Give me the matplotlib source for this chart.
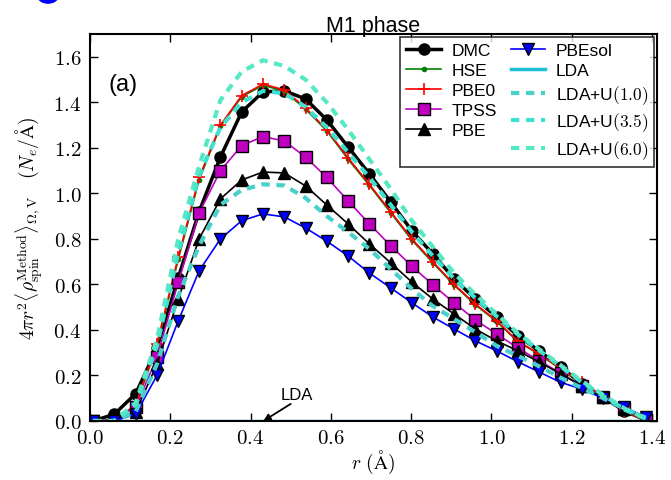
import numpy as np
import matplotlib.pyplot as plt
from matplotlib.patches import Ellipse
from matplotlib.ticker import FuncFormatter, MultipleLocator

plt.rcParams['mathtext.fontset'] = 'cm'
plt.rcParams['font.family'] = ['Liberation Sans', 'DejaVu Sans']

# radial grid (Angstrom)
r = [0.008, 0.061, 0.114, 0.167, 0.220, 0.272, 0.325, 0.378, 0.431, 0.484,
     0.537, 0.590, 0.643, 0.696, 0.749, 0.802, 0.854, 0.907, 0.960, 1.013,
     1.066, 1.119, 1.172, 1.225, 1.278, 1.331, 1.384]

dmc = [0.0, 0.03, 0.12, 0.32, 0.63, 0.92, 1.16, 1.358, 1.446, 1.451,
       1.415, 1.323, 1.204, 1.086, 0.963, 0.835, 0.734, 0.624, 0.536, 0.457,
       0.374, 0.308, 0.237, 0.163, 0.105, 0.044, 0.005]
hse = [0.0, 0.005, 0.065, 0.33, 0.71, 1.06, 1.295, 1.425, 1.475, 1.45,
       1.37, 1.275, 1.15, 1.035, 0.915, 0.795, 0.695, 0.597, 0.51, 0.437,
       0.348, 0.293, 0.228, 0.168, 0.104, 0.043, 0.0]
pbe0 = [0.0, 0.005, 0.07, 0.34, 0.72, 1.07, 1.30, 1.43, 1.48, 1.455,
        1.376, 1.279, 1.156, 1.04, 0.92, 0.80, 0.70, 0.60, 0.514, 0.44,
        0.35, 0.295, 0.23, 0.17, 0.105, 0.044, 0.0]
tpss = [0.0, 0.005, 0.06, 0.28, 0.61, 0.914, 1.10, 1.21, 1.25, 1.23,
        1.16, 1.07, 0.967, 0.866, 0.77, 0.68, 0.598, 0.519, 0.444, 0.382,
        0.321, 0.264, 0.211, 0.154, 0.105, 0.057, 0.005]
pbe = [0.0, 0.0, 0.04, 0.25, 0.536, 0.80, 0.976, 1.059, 1.094, 1.090,
       1.033, 0.949, 0.866, 0.778, 0.695, 0.61, 0.536, 0.47, 0.404, 0.352,
       0.308, 0.259, 0.207, 0.154, 0.105, 0.053, 0.0]
pbesol = [0.0, 0.0, 0.03, 0.20, 0.44, 0.66, 0.80, 0.88, 0.91, 0.897,
          0.848, 0.79, 0.725, 0.65, 0.585, 0.519, 0.457, 0.404, 0.352, 0.308,
          0.26, 0.215, 0.17, 0.14, 0.10, 0.06, 0.018]
lda = [0.0] * len(r)
ldau1 = [0.0, 0.0, 0.04, 0.25, 0.55, 0.77, 0.95, 1.015, 1.04, 1.035,
         0.98, 0.90, 0.83, 0.756, 0.668, 0.58, 0.505, 0.448, 0.39, 0.33,
         0.286, 0.24, 0.19, 0.145, 0.10, 0.055, 0.015]
ldau35 = [0.0, 0.0, 0.07, 0.33, 0.74, 1.08, 1.29, 1.40, 1.45, 1.44,
          1.38, 1.29, 1.18, 1.07, 0.95, 0.83, 0.725, 0.625, 0.54, 0.46,
          0.38, 0.31, 0.24, 0.17, 0.11, 0.05, 0.01]
ldau6 = [0.0, 0.0, 0.08, 0.36, 0.80, 1.12, 1.41, 1.535, 1.585, 1.56,
         1.50, 1.40, 1.28, 1.15, 1.02, 0.88, 0.765, 0.65, 0.555, 0.47,
         0.385, 0.315, 0.245, 0.175, 0.115, 0.055, 0.01]

fig = plt.figure(figsize=(6.71, 4.81), dpi=100)
ax = fig.add_axes([0.134, 0.1227, 0.845, 0.8043])

ax.plot(r, dmc, 'k-', marker='o', ms=8, lw=2.5, label='DMC')
ax.plot(r, hse, color='green', marker='.', ms=6, lw=1.2, label='HSE')
ax.plot(r, pbe0, color='red', marker='+', ms=9, mew=1.2, lw=1.2, label='PBE0')
ax.plot(r, tpss, color='m', marker='s', ms=8, mec='k', lw=1.2, label='TPSS')
ax.plot(r, pbe, 'k-', marker='^', ms=8, lw=1.2, label='PBE')
ax.plot(r, pbesol, color='blue', marker='v', ms=8, mec='k', lw=1.2, label='PBEsol')
ax.plot(r, lda, color='#1fbcd6', lw=2.5, label='LDA')
ax.plot(r, ldau1, color='#48d1cc', lw=3, ls=(0, (2, 1.6)), label=r'LDA+U$(1.0)$')
ax.plot(r, ldau35, color='#40e0d0', lw=3, ls=(0, (2, 1.6)), label=r'LDA+U$(3.5)$')
ax.plot(r, ldau6, color='#55e8c4', lw=3, ls=(0, (2, 1.6)), label=r'LDA+U$(6.0)$')

# LDA pointer
ax.annotate('', xy=(0.432, 0.0), xytext=(0.50, 0.075),
            arrowprops=dict(arrowstyle='-|>', color='k', lw=1.3, shrinkA=0, shrinkB=0))
ax.text(0.515, 0.085, 'LDA', fontsize=12, ha='center', va='bottom')

ax.text(0.033, 0.87, '(a)', transform=ax.transAxes, fontsize=17, va='center')
ax.set_title('M1 phase', fontsize=15.5, pad=2)

ax.set_xlim(0, 1.412)
ax.set_ylim(0, 1.7)
ax.xaxis.set_major_locator(MultipleLocator(0.2))
ax.yaxis.set_major_locator(MultipleLocator(0.2))
fmt = FuncFormatter(lambda v, p: '$%.1f$' % v)
ax.xaxis.set_major_formatter(fmt)
ax.yaxis.set_major_formatter(fmt)
ax.tick_params(direction='in', length=6, width=1, top=True, right=True, labelsize=15)
ax.tick_params(axis='x', pad=5)
ax.tick_params(axis='y', pad=6)
for s in ax.spines.values():
    s.set_linewidth(1.5)

ax.set_xlabel(r'$r\ ({\rm \AA})$', fontsize=14, labelpad=1)
ax.set_ylabel(r'$4\pi r^2\langle\rho^{\rm Method}_{\rm spin}\rangle_{\Omega,{\rm V}}\quad(N_e/{\rm \AA})$',
              fontsize=14, labelpad=6)

leg = ax.legend(loc='upper right', ncol=2, fontsize=12.5, frameon=True, fancybox=False,
                borderaxespad=0.15, handlelength=2.0, handletextpad=0.6, columnspacing=0.8,
                labelspacing=0.28, borderpad=0.35)
leg.get_frame().set_edgecolor('k')
leg.get_frame().set_linewidth(1.2)

fig.add_artist(Ellipse((48 / 671, 1.006), 20 / 671, 14 / 481, transform=fig.transFigure,
                       color='blue'))

fig.savefig('out.png', dpi=100)
